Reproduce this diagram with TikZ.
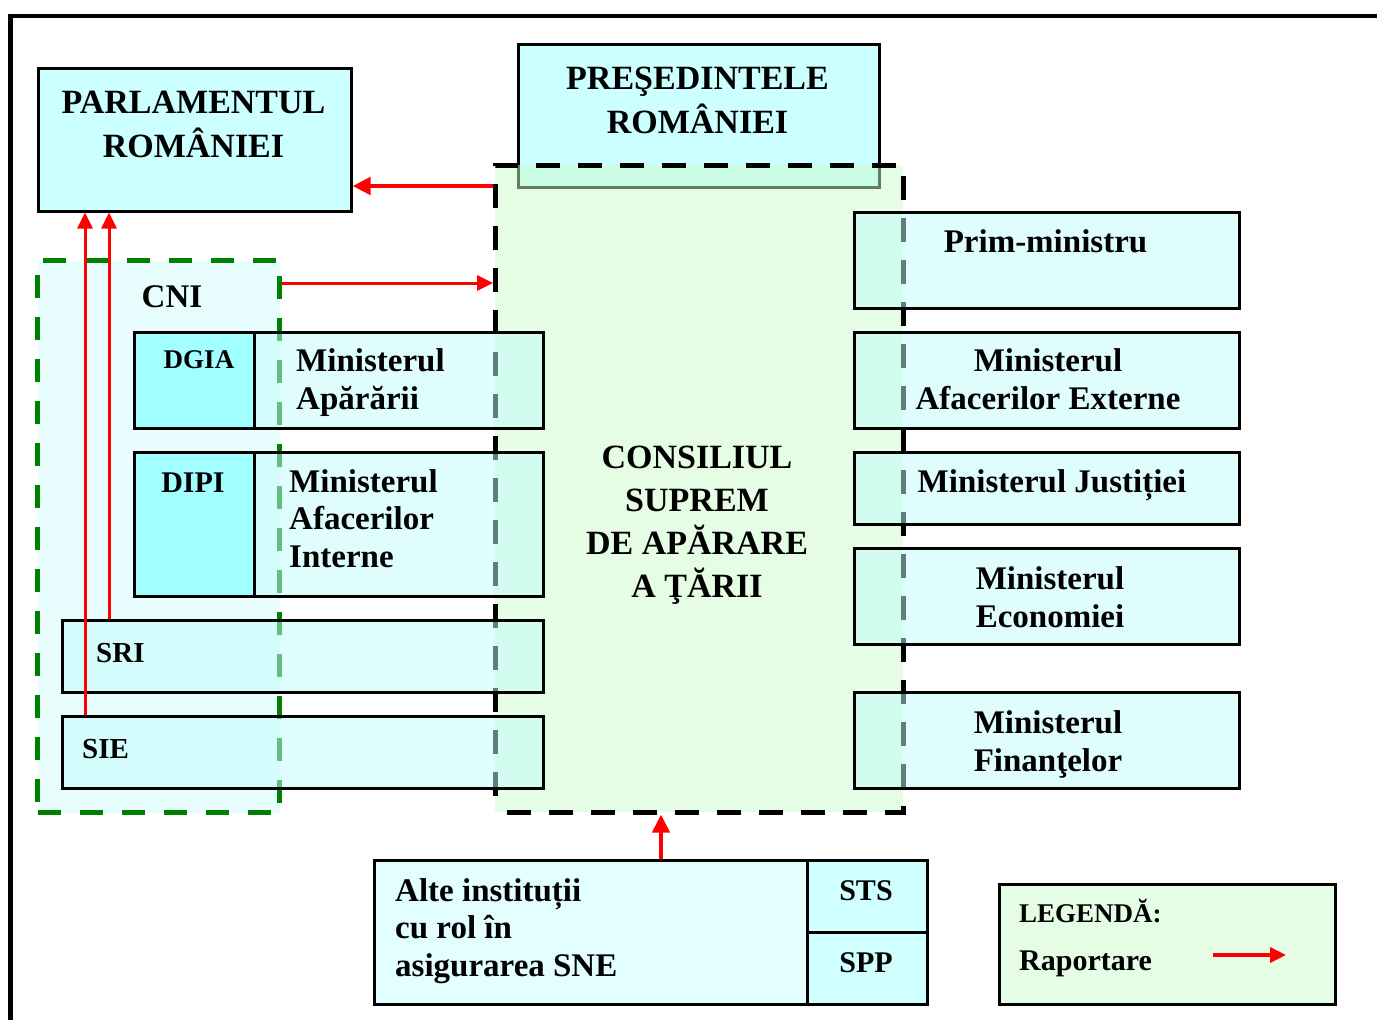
\documentclass[tikz,border=0pt]{standalone}
\usepackage{fontspec}
\setmainfont{Liberation Serif}
\usetikzlibrary{arrows.meta}
\definecolor{titlecol}{HTML}{CCFFFF}
\definecolor{csatcol}{HTML}{CBFBCB}
\definecolor{cnicol}{HTML}{E8FEFE}
\definecolor{glasscol}{HTML}{C2FCFC}
\definecolor{cellcol}{HTML}{A2FFFF}
\definecolor{altecol}{HTML}{E3FEFE}
\definecolor{sidecol}{HTML}{D0FFFF}
\definecolor{legcol}{HTML}{E5FDE5}
\definecolor{cnigreen}{HTML}{008000}
\definecolor{arrred}{HTML}{FF0000}
\newcommand{\titlef}{\fontsize{34}{44}\selectfont\bfseries}
\newcommand{\bodyf}{\fontsize{33}{37.5}\selectfont\bfseries}
\begin{document}
\begin{tikzpicture}[x=1pt,y=-1pt,
  solidbox/.style={draw=black, line width=2.5pt, fill=#1, inner sep=0pt, anchor=north west},
  glassbox/.style={draw=black, line width=2.5pt, fill=glasscol, fill opacity=0.5, text opacity=1, inner sep=0pt, anchor=north west},
  txt/.style={inner sep=0pt, font=\bodyf, anchor=base},
  txtw/.style={inner sep=0pt, font=\bodyf, anchor=base west, align=left},
  report/.style={draw=arrred, line width=3pt, -{Triangle[length=16pt,width=15pt]}},
  reportbig/.style={draw=arrred, line width=4.5pt, -{Triangle[length=18pt,width=17pt]}}
]
\useasboundingbox (0,0) rectangle (1377,1020);
% outer frame
\draw[line width=4.5pt] (10.5,1030) -- (10.5,16) -- (1390,16);

% title boxes
\node[solidbox=titlecol, minimum width=313, minimum height=143] (parl) at (37,67) {};
\node[solidbox=titlecol, minimum width=361, minimum height=143] (pres) at (517,43) {};

% CSAT
\node[anchor=north west, inner sep=0pt, minimum width=408, minimum height=647,
      fill=csatcol, fill opacity=0.5, draw=black, draw opacity=1, line width=4.5pt,
      dash pattern=on 24pt off 18pt, dash phase=-12pt] (csat) at (493,163) {};

% CNI
\node[anchor=north west, inner sep=0pt, minimum width=242, minimum height=552,
      fill=cnicol, draw=cnigreen, line width=5pt,
      dash pattern=on 23pt off 19pt] (cni) at (35,258) {};

% left boxes
\node[glassbox, minimum width=409, minimum height=96] (ma) at (133,331) {};
\node[solidbox=cellcol, minimum width=120, minimum height=96] (dgia) at (133,331) {};
\node[glassbox, minimum width=409, minimum height=144] (mai) at (133,451) {};
\node[solidbox=cellcol, minimum width=120, minimum height=144] (dipi) at (133,451) {};
\node[glassbox, minimum width=481, minimum height=72] (sri) at (61,619) {};
\node[glassbox, minimum width=481, minimum height=72] (sie) at (61,715) {};

% right boxes
\node[glassbox, minimum width=385, minimum height=96] (pm) at (853,211) {};
\node[glassbox, minimum width=385, minimum height=96] (mae) at (853,331) {};
\node[glassbox, minimum width=385, minimum height=72] (mj) at (853,451) {};
\node[glassbox, minimum width=385, minimum height=96] (me) at (853,547) {};
\node[glassbox, minimum width=385, minimum height=96] (mf) at (853,691) {};

% bottom boxes
\node[solidbox=altecol, minimum width=553, minimum height=144] (alte) at (373,859) {};
\node[solidbox=sidecol, minimum width=120, minimum height=72] (sts) at (806,859) {};
\node[solidbox=sidecol, minimum width=120, minimum height=72] (spp) at (806,931) {};
\node[solidbox=legcol, minimum width=336, minimum height=120] (leg) at (998,883) {};

% texts (multi-line nodes: base = last line's baseline)
\node[txt, font=\titlef, align=center] (parlt) at (193.5,157) {PARLAMENTUL\\ROMÂNIEI};
\node[txt, font=\titlef, align=center] (prest) at (697.5,133) {PREŞEDINTELE\\ROMÂNIEI};
\node[txt, font=\fontsize{34}{43}\selectfont\bfseries, align=center] (csatt) at (697,597) {CONSILIUL\\SUPREM\\DE APĂRARE\\A ŢĂRII};
\node[txt] (cnit) at (172,307) {CNI};
\node[txt, font=\fontsize{27}{30}\selectfont\bfseries] (dgiat) at (199,368) {DGIA};
\node[txtw] (mat) at (296,409) {Ministerul\\Apărării};
\node[txt, font=\fontsize{30}{30}\selectfont\bfseries] (dipit) at (193,492) {DIPI};
\node[txtw] (mait) at (289,567) {Ministerul\\Afacerilor\\Interne};
\node[txtw, font=\fontsize{29}{30}\selectfont\bfseries] (srit) at (96,662) {SRI};
\node[txtw, font=\fontsize{29}{30}\selectfont\bfseries] (siet) at (82,758) {SIE};
\node[txt] (pmt) at (1045.5,252) {Prim-ministru};
\node[txt, align=center] (maet) at (1048,409) {Ministerul\\Afacerilor Externe};
\node[txt] (mjt) at (1052,492) {Ministerul Justiției};
\node[txt, align=center] (met) at (1050,627) {Ministerul\\Economiei};
\node[txt, align=center] (mft) at (1048,771) {Ministerul\\Finanţelor};
\node[txtw] (altet) at (395,976) {Alte instituții\\cu rol în\\asigurarea SNE};
\node[txt, font=\fontsize{30}{30}\selectfont\bfseries] (stst) at (866,900) {STS};
\node[txt, font=\fontsize{30}{30}\selectfont\bfseries] (sppt) at (866,972) {SPP};
\node[txtw, font=\fontsize{27}{30}\selectfont\bfseries] (legt) at (1019,922) {LEGENDĂ:};
\node[txtw, font=\fontsize{30}{30}\selectfont\bfseries] (rapt) at (1019,970) {Raportare};

% connectors
\coordinate (ya) at (0,186);
\coordinate (yb) at (0,283);
\coordinate (xa) at (85,0);
\coordinate (xb) at (109,0);
\coordinate (xc) at (661,0);
\draw[reportbig] (csat.west |- ya) -- (parl.east |- ya);
\draw[report] (cni.east |- yb) -- (csat.west |- yb);
\draw[report] (sie.north -| xa) -- (parl.south -| xa);
\draw[report] (sri.north -| xb) -- (parl.south -| xb);
\draw[reportbig, line width=4pt] (alte.north -| xc) -- (csat.south -| xc);
\coordinate (legA) at (1213,955);
\coordinate (legB) at (1286,955);
\draw[report, line width=3.5pt] (legA) -- (legB);
\end{tikzpicture}
\end{document}
